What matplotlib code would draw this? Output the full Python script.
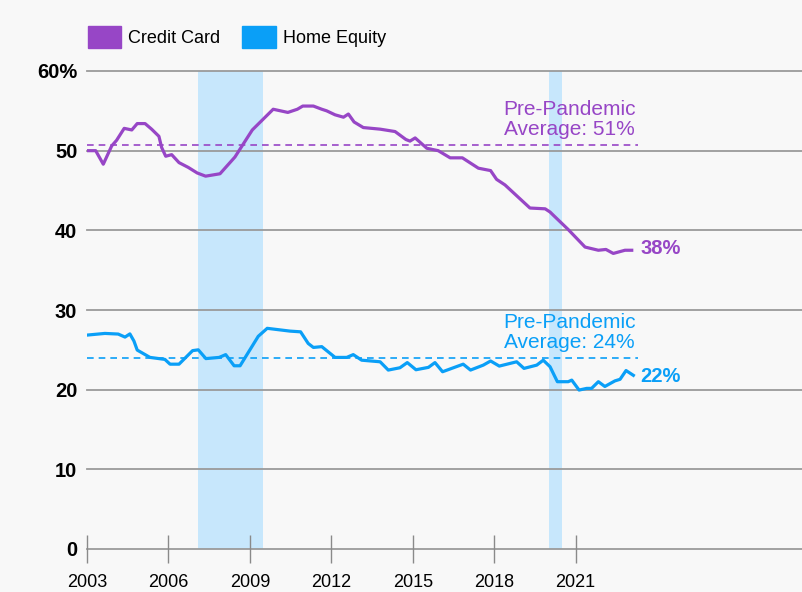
import matplotlib
matplotlib.use('Agg')
import matplotlib.pyplot as plt
from matplotlib.patches import Patch

# credit card share (%)
cc_year = [2003.0, 2003.32, 2003.6, 2003.91, 2004.09, 2004.37, 2004.65, 2004.85, 2005.14,
           2005.38, 2005.65, 2005.75, 2005.9, 2006.12, 2006.39, 2006.73, 2007.06, 2007.37,
           2007.9, 2008.45, 2009.09, 2009.86, 2010.4, 2010.75, 2010.95, 2011.34, 2011.65,
           2011.83, 2012.14, 2012.45, 2012.63, 2012.84, 2013.18, 2013.8, 2014.35, 2014.75,
           2014.9, 2015.09, 2015.52, 2015.94, 2016.38, 2016.83, 2017.42, 2017.87, 2018.09,
           2018.4, 2019.32, 2019.88, 2020.06, 2020.18, 2020.73, 2021.35, 2021.84, 2022.12,
           2022.39, 2022.82, 2023.07]
cc_val = [50.0, 50.0, 48.3, 50.6, 51.3, 52.8, 52.6, 53.4, 53.4,
          52.7, 51.8, 50.4, 49.3, 49.5, 48.5, 47.9, 47.2, 46.8,
          47.1, 49.2, 52.6, 55.2, 54.8, 55.2, 55.6, 55.6, 55.2,
          55.0, 54.5, 54.2, 54.6, 53.6, 52.9, 52.7, 52.4, 51.4,
          51.2, 51.6, 50.3, 50.0, 49.1, 49.1, 47.8, 47.5, 46.4,
          45.7, 42.8, 42.7, 42.3, 41.9, 40.1, 37.9, 37.5, 37.6,
          37.1, 37.5, 37.5]

# home equity share (%)
he_year = [2003.0, 2003.66, 2004.15, 2004.4, 2004.58, 2004.73, 2004.85, 2005.32, 2005.87,
           2006.06, 2006.39, 2006.89, 2007.1, 2007.38, 2007.87, 2008.11, 2008.42, 2008.64,
           2009.31, 2009.64, 2010.48, 2010.87, 2011.15, 2011.34, 2011.65, 2012.14, 2012.57,
           2012.81, 2013.12, 2013.8, 2014.1, 2014.53, 2014.8, 2015.12, 2015.58, 2015.82,
           2016.1, 2016.86, 2017.13, 2017.6, 2017.87, 2018.19, 2018.83, 2019.1, 2019.57,
           2019.81, 2020.06, 2020.33, 2020.73, 2020.86, 2021.13, 2021.41, 2021.59, 2021.84,
           2022.08, 2022.45, 2022.64, 2022.86, 2023.13]
he_val = [26.85, 27.06, 26.98, 26.6, 27.0, 26.1, 24.97, 24.05, 23.8,
          23.2, 23.2, 24.9, 25.0, 23.9, 24.05, 24.4, 23.0, 23.0,
          26.7, 27.7, 27.35, 27.26, 25.8, 25.3, 25.4, 24.05, 24.05,
          24.4, 23.7, 23.5, 22.46, 22.75, 23.4, 22.5, 22.8, 23.4,
          22.25, 23.2, 22.46, 23.08, 23.6, 22.96, 23.5, 22.67, 23.08,
          23.7, 22.88, 21.0, 21.0, 21.2, 19.95, 20.16, 20.16, 21.0,
          20.4, 21.1, 21.3, 22.4, 21.8]

cc_avg = 50.7
he_avg = 24.0
recessions = [(2007.09, 2009.48), (2020.02, 2020.5)]
year_ticks = [2003, 2006, 2009, 2012, 2015, 2018, 2021]
y_ticks = [0, 10, 20, 30, 40, 50, 60]
y_labels = ['0', '10', '20', '30', '40', '50', '60%']

purple = '#9746c6'
blue = '#0a9ff7'
band = '#c7e7fc'
bg = '#f8f8f8'

plt.rcParams['font.family'] = ['Liberation Sans', 'DejaVu Sans']

fig = plt.figure(figsize=(8.03, 5.92), dpi=100, facecolor=bg)
ax = fig.add_axes([87/803, 1 - 549/592, 1 - 87/803, 478/592])
ax.set_facecolor(bg)
ax.set_xlim(2003, 2029.38)
ax.set_ylim(0, 60)

for x0, x1 in recessions:
    ax.axvspan(x0, x1, color=band, lw=0, zorder=0)

for y in y_ticks:
    ax.axhline(y, color='#9a9a9a', lw=1.3, zorder=1, clip_on=False)

ax.plot(cc_year, cc_val, color=purple, lw=2.3, zorder=3)
ax.plot(he_year, he_val, color=blue, lw=2.3, zorder=3)

ax.plot([2003, 2023.3], [cc_avg, cc_avg], color=purple, lw=1.2, ls=(0, (4, 3)), zorder=2)
ax.plot([2003, 2023.3], [he_avg, he_avg], color=blue, lw=1.2, ls=(0, (4, 3)), zorder=2)

ax.text(2020.78, cc_avg + 0.8, 'Pre-Pandemic\nAverage: 51%', color=purple, fontsize=15,
        ha='center', va='bottom', linespacing=1.05, zorder=4)
ax.text(2020.78, he_avg + 0.7, 'Pre-Pandemic\nAverage: 24%', color=blue, fontsize=15,
        ha='center', va='bottom', linespacing=1.05, zorder=4)

ax.text(2023.4, cc_val[-1] + 0.2, '38%', color=purple, fontsize=14.5, fontweight='bold',
        ha='left', va='center')
ax.text(2023.4, he_val[-1] - 0.1, '22%', color=blue, fontsize=14.5, fontweight='bold',
        ha='left', va='center')

for s in ax.spines.values():
    s.set_visible(False)

ax.set_yticks(y_ticks)
ax.set_yticklabels(y_labels, fontsize=14.5, fontweight='bold')
ax.tick_params(axis='y', length=0, pad=7)

ax.set_xticks(year_ticks)
ax.set_xticklabels([str(y) for y in year_ticks], fontsize=13,
                   family=['Liberation Sans Narrow', 'Liberation Sans'])
ax.tick_params(axis='x', direction='inout', length=20, width=1, color='#8a8a8a', pad=8)

handles = [Patch(color=purple, label='Credit Card'), Patch(color=blue, label='Home Equity')]
fig.legend(handles=handles, loc='upper left', bbox_to_anchor=(0.089, 0.983), ncol=2,
           frameon=False, fontsize=13, handlelength=1.85, handleheight=1.45,
           handletextpad=0.4, columnspacing=1.2)

fig.savefig('out.png', dpi=100, facecolor=bg)
